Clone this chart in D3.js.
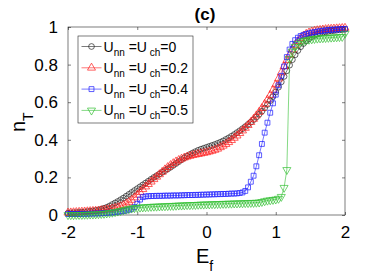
<!DOCTYPE html>
<html>
<head>
<meta charset="utf-8">
<script src="https://cdn.jsdelivr.net/npm/d3@7"></script>
<style>
  body { margin: 0; background: #fff; }
  text { font-family: "Liberation Sans", Arial, sans-serif; }
</style>
</head>
<body>
<script>
var w = 382;
var h = 276;

// Ef grid: -2 .. 2 in steps of 0.04 (101 points)
var ef = d3.range(101).map(function(i){ return +(-2 + i * 0.04).toFixed(2); });

var nBlack = [
  0.010, 0.011, 0.012, 0.013, 0.014,
  0.015, 0.016, 0.018, 0.020, 0.022,
  0.024, 0.027, 0.031, 0.036, 0.041,
  0.048, 0.056, 0.064, 0.072, 0.081,
  0.090, 0.100, 0.110, 0.120, 0.130,
  0.140, 0.150, 0.160, 0.170, 0.180,
  0.190, 0.200, 0.209, 0.218, 0.227,
  0.236, 0.245, 0.254, 0.264, 0.274,
  0.284, 0.294, 0.304, 0.313, 0.322,
  0.330, 0.337, 0.344, 0.350, 0.355,
  0.360, 0.365, 0.370, 0.375, 0.381,
  0.387, 0.394, 0.402, 0.410, 0.419,
  0.428, 0.438, 0.448, 0.459, 0.470,
  0.482, 0.494, 0.507, 0.521, 0.536,
  0.552, 0.569, 0.588, 0.608, 0.630,
  0.654, 0.680, 0.708, 0.737, 0.767,
  0.797, 0.826, 0.852, 0.875, 0.895,
  0.912, 0.926, 0.938, 0.948, 0.956,
  0.962, 0.967, 0.971, 0.974, 0.977,
  0.979, 0.981, 0.983, 0.985, 0.986,
  0.988
];

var nRed = [
  0.012, 0.013, 0.014, 0.015, 0.016,
  0.017, 0.018, 0.019, 0.020, 0.021,
  0.022, 0.023, 0.025, 0.027, 0.029,
  0.031, 0.034, 0.037, 0.041, 0.046,
  0.052, 0.060, 0.069, 0.080, 0.093,
  0.107, 0.122, 0.137, 0.151, 0.164,
  0.177, 0.190, 0.203, 0.216, 0.229,
  0.242, 0.254, 0.265, 0.275, 0.284,
  0.292, 0.299, 0.305, 0.310, 0.314,
  0.318, 0.321, 0.324, 0.327, 0.330,
  0.333, 0.337, 0.341, 0.346, 0.352,
  0.360, 0.368, 0.377, 0.387, 0.398,
  0.410, 0.422, 0.435, 0.449, 0.463,
  0.478, 0.494, 0.511, 0.529, 0.548,
  0.568, 0.590, 0.613, 0.638, 0.665,
  0.694, 0.725, 0.758, 0.791, 0.823,
  0.853, 0.880, 0.904, 0.924, 0.940,
  0.953, 0.963, 0.970, 0.975, 0.979,
  0.982, 0.984, 0.986, 0.988, 0.989,
  0.990, 0.991, 0.992, 0.993, 0.994,
  0.995
];

var nBlue = [
  0.005, 0.005, 0.005, 0.005, 0.005,
  0.006, 0.006, 0.006, 0.007, 0.007,
  0.008, 0.008, 0.009, 0.010, 0.011,
  0.012, 0.013, 0.015, 0.017, 0.019,
  0.021, 0.024, 0.028, 0.033, 0.042,
  0.060, 0.082, 0.095, 0.099, 0.100,
  0.101, 0.101, 0.102, 0.102, 0.102,
  0.103, 0.103, 0.103, 0.104, 0.104,
  0.104, 0.105, 0.105, 0.106, 0.106,
  0.106, 0.107, 0.107, 0.108, 0.108,
  0.109, 0.109, 0.110, 0.110, 0.111,
  0.111, 0.112, 0.112, 0.113, 0.114,
  0.114, 0.115, 0.117, 0.120, 0.128,
  0.147, 0.177, 0.209, 0.259, 0.318,
  0.378, 0.438, 0.491, 0.544, 0.594,
  0.640, 0.690, 0.740, 0.790, 0.840,
  0.880, 0.910, 0.930, 0.943, 0.952,
  0.958, 0.963, 0.967, 0.970, 0.973,
  0.976, 0.978, 0.980, 0.982, 0.984,
  0.985, 0.986, 0.987, 0.988, 0.989,
  0.990
];

var nGreen = [
  0.000, 0.000, 0.000, 0.001, 0.001,
  0.001, 0.002, 0.002, 0.003, 0.003,
  0.004, 0.005, 0.006, 0.007, 0.009,
  0.011, 0.013, 0.016, 0.019, 0.022,
  0.026, 0.029, 0.032, 0.035, 0.037,
  0.039, 0.040, 0.041, 0.042, 0.043,
  0.044, 0.045, 0.045, 0.046, 0.047,
  0.047, 0.048, 0.049, 0.049, 0.050,
  0.051, 0.051, 0.052, 0.053, 0.053,
  0.054, 0.054, 0.055, 0.056, 0.056,
  0.057, 0.057, 0.058, 0.058, 0.059,
  0.059, 0.060, 0.060, 0.061, 0.061,
  0.062, 0.062, 0.063, 0.063, 0.064,
  0.064, 0.065, 0.065, 0.066, 0.067,
  0.070, 0.074, 0.077, 0.079, 0.081,
  0.083, 0.087, 0.097, 0.145, 0.240,
  0.830, 0.870, 0.895, 0.910, 0.920,
  0.926, 0.930, 0.933, 0.935, 0.937,
  0.939, 0.940, 0.941, 0.942, 0.943,
  0.944, 0.945, 0.946, 0.947, 0.948,
  0.965
];

var uLabels = ["0", "0.2", "0.4", "0.5"];
var colors = ["#222222", "#ff1a1a", "#1a1aff", "#33c033"];
var shapes = [d3.symbolCircle, d3.symbolTriangle, d3.symbolSquare, "down"];
var xTicks = [-2, -1, 0, 1, 2];
var yTicks = [0, 0.2, 0.4, 0.6, 0.8, 1];

var series = [nBlack, nRed, nBlue, nGreen];

var mLeft = 68, mRight = 345, mTop = 27, mBottom = 215;

var svg = d3.select("body")
            .append("svg")
            .attr("width", w)
            .attr("height", h);

var x = d3.scaleLinear().domain([-2, 2]).range([mLeft, mRight]);
var y = d3.scaleLinear().domain([0, 1]).range([mBottom, mTop]);

// axes box
svg.append("rect")
   .attr("x", mLeft).attr("y", mTop)
   .attr("width", mRight - mLeft).attr("height", mBottom - mTop)
   .attr("fill", "white")
   .attr("stroke", "#262626")
   .attr("stroke-width", 0.6);

var fmt = function(d){ return String(d); };
var tickLen = 3;
svg.append("g")
   .attr("transform", "translate(0," + mBottom + ")")
   .call(d3.axisBottom(x).tickValues(xTicks).tickSizeInner(-tickLen).tickSizeOuter(0).tickPadding(11).tickFormat(fmt))
   .call(function(g){ g.select(".domain").remove(); });
svg.append("g")
   .attr("transform", "translate(0," + mTop + ")")
   .call(d3.axisTop(x).tickValues(xTicks).tickSizeInner(-tickLen).tickSizeOuter(0).tickFormat(""))
   .call(function(g){ g.select(".domain").remove(); });
svg.append("g")
   .attr("transform", "translate(" + mLeft + ",0)")
   .call(d3.axisLeft(y).tickValues(yTicks).tickSizeInner(-tickLen).tickSizeOuter(0).tickPadding(10).tickFormat(fmt))
   .call(function(g){ g.select(".domain").remove(); });
svg.append("g")
   .attr("transform", "translate(" + mRight + ",0)")
   .call(d3.axisRight(y).tickValues(yTicks).tickSizeInner(-tickLen).tickSizeOuter(0).tickFormat(""))
   .call(function(g){ g.select(".domain").remove(); });

svg.selectAll(".tick line").attr("stroke", "#262626").attr("stroke-width", 0.6);
svg.selectAll(".tick text")
   .attr("font-family", "Liberation Sans, Arial, sans-serif")
   .attr("font-size", "17px")
   .attr("fill", "#000");

function markerPath(shape, size) {
  if (shape === "down") {
    return d3.symbol().type(d3.symbolTriangle).size(size)();
  }
  return d3.symbol().type(shape).size(size)();
}
var sizes = [26, 28, 24, 28];

var line = d3.line()
             .x(function(d){ return x(d[0]); })
             .y(function(d){ return y(d[1]); });

series.forEach(function(vals, k) {
  var pts = ef.map(function(e, i){ return [e, vals[i]]; });
  var g = svg.append("g");
  g.append("path")
   .datum(pts)
   .attr("d", line)
   .attr("fill", "none")
   .attr("stroke", colors[k])
   .attr("stroke-width", 0.6);
  g.selectAll("path.m")
   .data(pts)
   .enter()
   .append("path")
   .attr("class", "m")
   .attr("d", markerPath(shapes[k], sizes[k]))
   .attr("transform", function(d){
     return "translate(" + x(d[0]) + "," + y(d[1]) + ")" + (shapes[k] === "down" ? " rotate(180)" : "");
   })
   .attr("fill", "none")
   .attr("stroke", colors[k])
   .attr("stroke-width", 0.7);
});

// legend
var lg = svg.append("g");
lg.append("rect")
  .attr("x", 78).attr("y", 36)
  .attr("width", 115).attr("height", 87)
  .attr("fill", "white")
  .attr("stroke", "#262626")
  .attr("stroke-width", 0.6);

uLabels.forEach(function(u, k) {
  var yy = 46.5 + k * 21.3;
  lg.append("line")
    .attr("x1", 81.5).attr("x2", 101.5)
    .attr("y1", yy).attr("y2", yy)
    .attr("stroke", colors[k])
    .attr("stroke-width", 0.6);
  lg.append("path")
    .attr("d", markerPath(shapes[k], sizes[k]))
    .attr("transform", "translate(91.5," + yy + ")" + (shapes[k] === "down" ? " rotate(180)" : ""))
    .attr("fill", "none")
    .attr("stroke", colors[k])
    .attr("stroke-width", 0.7);
  var t = lg.append("text")
    .attr("x", 103.5)
    .attr("y", yy + 5)
    .attr("font-size", "14px")
    .attr("fill", "#000");
  t.append("tspan").text("U");
  t.append("tspan").attr("font-size", "10px").attr("dy", 4).text("nn");
  t.append("tspan").attr("dy", -4).text(" =U");
  t.append("tspan").attr("font-size", "10px").attr("dy", 4).text(" ch");
  t.append("tspan").attr("dy", -4).text("=" + u);
});

// title
svg.append("text")
   .attr("x", 205)
   .attr("y", 20)
   .attr("text-anchor", "middle")
   .attr("font-size", "17px")
   .attr("font-weight", "bold")
   .text("(c)");

// x label
var xl = svg.append("text")
   .attr("x", 196)
   .attr("y", 263)
   .attr("font-size", "20px");
xl.append("tspan").text("E");
xl.append("tspan").attr("font-size", "14px").attr("dy", 8).text("f");

// y label
var yl = svg.append("text")
   .attr("transform", "translate(25,132) rotate(-90)")
   .attr("font-size", "20px");
yl.append("tspan").text("n");
yl.append("tspan").attr("font-size", "14px").attr("dy", 8).text("T");
</script>
</body>
</html>
